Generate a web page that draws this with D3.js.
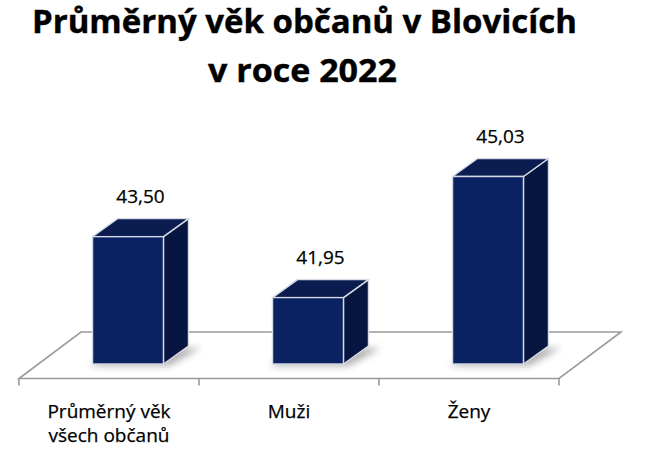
<!DOCTYPE html>
<html><head><meta charset="utf-8">
<script src="https://cdn.jsdelivr.net/npm/d3@7/dist/d3.min.js"></script>
<style>html,body{margin:0;padding:0;background:#fff;}svg{display:block;}</style>
</head><body>
<svg id="c" width="648" height="449"></svg>
<script>
const titleLines = ["Průměrný věk občanů v Blovicích", "v roce 2022"];
const categories = ["Průměrný věk|všech občanů", "Muži", "Ženy"];
const values = [43.50, 41.95, 45.03];
const valueLabels = ["43,50", "41,95", "45,03"];

const svg = d3.select("#c");
const font = "'Open Sans', 'Noto Sans', sans-serif";

// floor geometry
const floorFrontY = 378.5, floorDX = 62, floorDY = -46.5;
const barFrontDX = 19, barFrontDY = -14.5;   // bar front face offset from floor front
const depthDX = 25, depthDY = -18;           // bar depth
const baseY = floorFrontY + barFrontDY;

const x = d3.scaleBand().domain(categories).range([19, 559])
  .paddingInner(0.606).paddingOuter(0.303);
const y = d3.scaleLinear().domain([40.26, 46]).range([0, 225.6]);

const defs = svg.append("defs");
defs.append("filter").attr("id", "blur").attr("x", "-50%").attr("y", "-50%").attr("width", "200%").attr("height", "200%")
  .append("feGaussianBlur").attr("stdDeviation", 3.5);

// Title
const tl = [{t: titleLines[0], y: 33, w: 545, cx: 304.5}, {t: titleLines[1], y: 82, w: 189, cx: 302.5}];
svg.selectAll("text.title").data(tl).join("text").attr("class", "title")
  .attr("x", d => d.cx).attr("y", d => d.y).attr("text-anchor", "middle")
  .attr("font-family", font).attr("font-weight", "bold").attr("font-size", 31.5)
  .attr("fill", "#000").attr("stroke", "#000").attr("stroke-width", 0.4)
  .attr("textLength", d => d.w).attr("lengthAdjust", "spacingAndGlyphs")
  .text(d => d.t);

// Floor
const r0 = x.range()[0], r1 = x.range()[1];
const g = svg.append("g");
g.append("polygon")
  .attr("points", [[r0, floorFrontY], [r1, floorFrontY], [r1 + floorDX, floorFrontY + floorDY], [r0 + floorDX, floorFrontY + floorDY]].map(p => p.join(",")).join(" "))
  .attr("fill", "#fff").attr("stroke", "#9a9a9a").attr("stroke-width", 1.6);

// ticks
const step = x.step();
const tickXs = d3.range(categories.length + 1).map(i => r0 + i * step);
g.selectAll("line.tick").data(tickXs).join("line").attr("class", "tick")
  .attr("x1", d => d).attr("x2", d => d).attr("y1", floorFrontY).attr("y2", floorFrontY + 7)
  .attr("stroke", "#9a9a9a").attr("stroke-width", 1.6);

// Bars
const bars = g.selectAll("g.bar").data(categories.map((c, i) => ({c, v: values[i], l: valueLabels[i]}))).join("g").attr("class", "bar");

bars.each(function(d) {
  const s = d3.select(this);
  const x0 = x(d.c) + barFrontDX, x1 = x0 + x.bandwidth();
  const yb = baseY, yt = baseY - y(d.v);
  const pts = a => a.map(p => p.join(",")).join(" ");
  // shadow
  s.append("polygon")
    .attr("points", pts([[x0 - 3, yb + 2], [x1 + 6, yb + 2], [x1 + depthDX + 12, yb + depthDY + 2], [x0 + depthDX, yb + depthDY + 2]]))
    .attr("fill", "#777").attr("opacity", 0.55).attr("filter", "url(#blur)");
  // side
  s.append("polygon")
    .attr("points", pts([[x1, yb], [x1 + depthDX, yb + depthDY], [x1 + depthDX, yt + depthDY], [x1, yt]]))
    .attr("fill", "#061640").attr("stroke", "#d6dae4").attr("stroke-width", 1.4).attr("stroke-linejoin", "round");
  // top
  s.append("polygon")
    .attr("points", pts([[x0, yt], [x1, yt], [x1 + depthDX, yt + depthDY], [x0 + depthDX, yt + depthDY]]))
    .attr("fill", "#0a1c50").attr("stroke", "#d6dae4").attr("stroke-width", 1.4).attr("stroke-linejoin", "round");
  // front
  s.append("rect").attr("x", x0).attr("y", yt).attr("width", x1 - x0).attr("height", yb - yt)
    .attr("fill", "#0b2262").attr("stroke", "#d6dae4").attr("stroke-width", 1.4);
  // value label
  s.append("text").attr("x", (x0 + x1) / 2 + depthDX / 2).attr("y", yt + depthDY - 16)
    .attr("text-anchor", "middle").attr("font-family", font).attr("font-size", 19).attr("fill", "#000")
    .attr("stroke", "#000").attr("stroke-width", 0.25)
    .text(d.l);
});

// Category labels
g.selectAll("text.cat").data(categories).join("text").attr("class", "cat")
  .attr("x", d => x(d) + x.bandwidth() / 2).attr("y", 418)
  .attr("text-anchor", "middle").attr("font-family", font).attr("font-size", 19).attr("fill", "#000")
  .attr("stroke", "#000").attr("stroke-width", 0.25)
  .each(function(d) {
    const t = d3.select(this);
    d.split("|").forEach((line, i) => {
      t.append("tspan").attr("x", x(d) + x.bandwidth() / 2).attr("dy", i === 0 ? 0 : 24).text(line);
    });
  });
</script>
</body></html>
